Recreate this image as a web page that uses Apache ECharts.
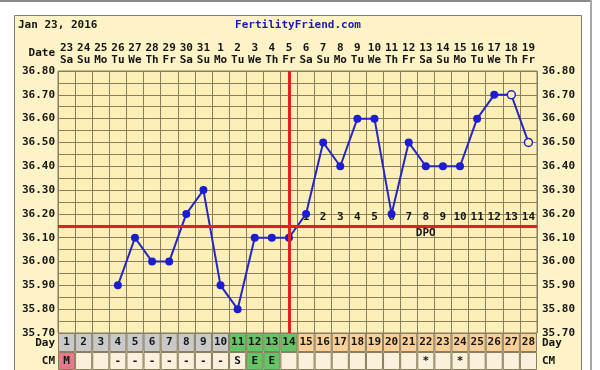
<!DOCTYPE html>
<html><head><meta charset="utf-8">
<script src="https://cdn.jsdelivr.net/npm/echarts@6/dist/echarts.min.js"></script>
<style>html,body{margin:0;padding:0;background:#fff}#c{width:600px;height:370px}</style>
</head><body><div id="c"></div>
<script>
// ---- data ----
const cycleDays = ['1','2','3','4','5','6','7','8','9','10','11','12','13','14','15','16','17','18','19','20','21','22','23','24','25','26','27','28'];
const dates = ['23','24','25','26','27','28','29','30','31','1','2','3','4','5','6','7','8','9','10','11','12','13','14','15','16','17','18','19'];
const weekdays = ['Sa','Su','Mo','Tu','We','Th','Fr','Sa','Su','Mo','Tu','We','Th','Fr','Sa','Su','Mo','Tu','We','Th','Fr','Sa','Su','Mo','Tu','We','Th','Fr'];
const temps = [null,null,null,35.90,36.10,36.00,36.00,36.20,36.30,35.90,35.80,36.10,36.10,36.10,36.20,36.50,36.40,36.60,36.60,36.20,36.50,36.40,36.40,36.40,36.60,36.70,36.70,36.50];
const hollowDays = ['27','28'];
const coverline = 36.15;
const ovulationDay = '14';
const dpoDays = ['15','16','17','18','19','20','21','22','23','24','25','26','27','28'];
const dpoLabels = ['1','2','3','4','5','6','7','8','9','10','11','12','13','14'];
const dpoTitleDay = '22';
const phases = ['pre','pre','pre','pre','pre','pre','pre','pre','pre','pre','fertile','fertile','fertile','fertile','post','post','post','post','post','post','post','post','post','post','post','post','post','post'];
const cm = ['M','','','-','-','-','-','-','-','-','S','E','E','','','','','','','','','*','','*','','','',''];
const chartDate = 'Jan 23, 2016';
const siteName = 'FertilityFriend.com';

// ---- styles ----
const FONT = '"DejaVu Sans Mono", monospace';
const gridColor = '#877f60';
const txt = {fontFamily: FONT, fontWeight: 'bold', fontSize: 11, color: '#151515'};
const phaseColor = {pre: '#c9c9c9', fertile: '#66c466', post: '#fbcf98'};
const cmColor = {M: '#e8788a', E: '#66c466'};
const cmDefault = '#faf0dc';
const blue = '#2626c4';
const red = '#e02222';

const chart = echarts.init(document.getElementById('c'), null, {renderer: 'canvas'});
const L = 58, R = 63;

function gtext(text, x, y, align, fill) {
  return {type: 'text', z: 10, style: {text, x, y, font: 'bold 11px ' + FONT, fill: fill || '#151515',
    align, textAlign: align, verticalAlign: 'middle', textVerticalAlign: 'middle'}};
}

function textItem(labels) {
  return function (params, api) {
    const p = api.coord([api.value(0), api.value(1)]);
    return {type: 'text', style: {text: labels[params.dataIndex], x: p[0], y: p[1],
      font: 'bold 11px ' + FONT, fill: '#151515', align: 'center', verticalAlign: 'middle'}};
  };
}

chart.setOption({
  animation: false,
  backgroundColor: '#ffffff',
  graphic: [
    {type: 'rect', z: -5, silent: true, shape: {x: 0, y: 0, width: 591, height: 2}, style: {fill: '#8a8a8a'}},
    {type: 'rect', z: -5, silent: true, shape: {x: 590, y: 0, width: 2, height: 370}, style: {fill: '#a8a8a8'}},
    {type: 'rect', z: -5, silent: true, shape: {x: 14.5, y: 15.5, width: 567, height: 360}, style: {fill: '#fdf3c6', stroke: '#7c7c7c', lineWidth: 1}},
    gtext(chartDate, 18, 25, 'left'),
    gtext(siteName, 298, 25, 'center', '#1c1ca8'),
    gtext('Date', 55, 53, 'right'),
    gtext('Day', 55, 343, 'right'),
    gtext('CM', 55, 361, 'right'),
    gtext('Day', 542, 343, 'left'),
    gtext('CM', 542, 361, 'left')
  ],
  grid: [
    {left: L, right: R, top: 71, bottom: 37, show: true, backgroundColor: '#fcefb8', borderColor: gridColor, borderWidth: 1, z: 0},
    {left: L, right: R, top: 333, height: 19},
    {left: L, right: R, top: 352, height: 19}
  ],
  xAxis: [
    {type: 'category', gridIndex: 0, data: cycleDays, position: 'top', boundaryGap: true,
     axisLine: {show: false}, axisTick: {show: false},
     axisLabel: Object.assign({}, txt, {interval: 0, margin: 5, lineHeight: 12,
       formatter: (v, i) => dates[i] + '\n' + weekdays[i]}),
     splitLine: {show: true, interval: 0, lineStyle: {color: gridColor, width: 1}}},
    {type: 'category', gridIndex: 1, data: cycleDays, show: false},
    {type: 'category', gridIndex: 2, data: cycleDays, show: false}
  ],
  yAxis: [
    {type: 'value', gridIndex: 0, min: 35.7, max: 36.8, interval: 0.1, position: 'left',
     axisLine: {show: false}, axisTick: {show: false},
     axisLabel: Object.assign({}, txt, {margin: 3, formatter: v => v.toFixed(2)}),
     splitLine: {show: true, lineStyle: {color: gridColor, width: 1}},
     minorTick: {show: false, splitNumber: 2},
     minorSplitLine: {show: true, lineStyle: {color: gridColor, width: 1}}},
    {type: 'value', gridIndex: 0, min: 35.7, max: 36.8, interval: 0.1, position: 'right',
     axisLine: {show: false}, axisTick: {show: false}, splitLine: {show: false},
     axisLabel: Object.assign({}, txt, {margin: 5, formatter: v => v.toFixed(2)})},
    {type: 'value', gridIndex: 1, min: 0, max: 1, show: false},
    {type: 'value', gridIndex: 2, min: 0, max: 1, show: false}
  ],
  series: [
    {type: 'custom', xAxisIndex: 0, yAxisIndex: 0, z: 2, silent: true,
     data: [[cycleDays.indexOf(dpoTitleDay), 36.12]],
     renderItem: textItem(['DPO'])},
    {type: 'custom', xAxisIndex: 0, yAxisIndex: 0, z: 2, silent: true,
     data: dpoDays.map(d => [cycleDays.indexOf(d), 36.187]),
     renderItem: textItem(dpoLabels)},
    {type: 'line', xAxisIndex: 0, yAxisIndex: 0, z: 3, connectNulls: false,
     data: temps.map((t, i) => hollowDays.includes(cycleDays[i]) && t != null
       ? {value: t, itemStyle: {color: '#fcefb8', borderColor: blue, borderWidth: 1.5}}
       : t),
     symbol: 'circle', symbolSize: 8, showAllSymbol: true,
     lineStyle: {color: blue, width: 2},
     itemStyle: {color: '#1c1cd0', borderColor: '#1c1cd0', borderWidth: 0},
     markLine: {silent: true, symbol: 'none', label: {show: false}, animation: false,
       lineStyle: {color: red, width: 3, type: 'solid'},
       data: [{yAxis: coverline}, {xAxis: cycleDays.indexOf(ovulationDay)}]}},
    {type: 'bar', xAxisIndex: 1, yAxisIndex: 2, barWidth: '100%', silent: true,
     data: cycleDays.map((d, i) => ({value: 1, itemStyle: {color: phaseColor[phases[i]]}})),
     itemStyle: {borderColor: gridColor, borderWidth: 1},
     label: Object.assign({}, txt, {show: true, position: 'inside', formatter: p => cycleDays[p.dataIndex]})},
    {type: 'bar', xAxisIndex: 2, yAxisIndex: 3, barWidth: '100%', silent: true,
     data: cm.map((c, i) => ({value: 1, itemStyle: {color: cmColor[c] || cmDefault}})),
     itemStyle: {borderColor: gridColor, borderWidth: 1},
     label: Object.assign({}, txt, {show: true, position: 'inside', formatter: p => cm[p.dataIndex]})}
  ]
});
</script>
</body></html>
